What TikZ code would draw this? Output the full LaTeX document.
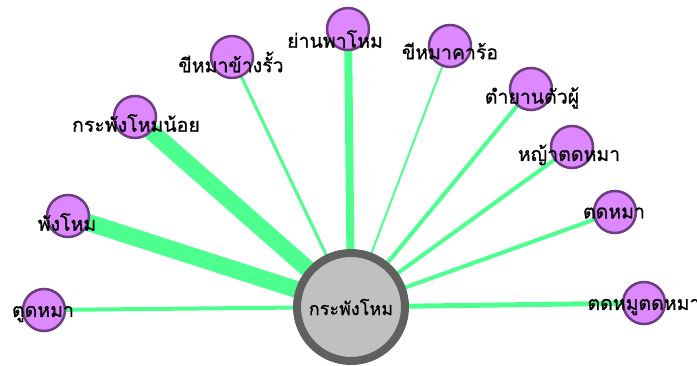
\documentclass[tikz,border=0pt]{standalone}
\usepackage{fontspec}
\newfontfamily\thaifont[Script=Thai, FakeBold=0.8]{Loma}
\definecolor{edgegreen}{RGB}{77,255,143}
\definecolor{leaffill}{RGB}{221,136,255}
\definecolor{leafline}{RGB}{108,62,128}
\definecolor{hubfill}{RGB}{192,192,192}
\definecolor{hubline}{RGB}{96,96,96}
\tikzset{
  leaf/.style={circle, draw=leafline, fill=leaffill, line width=2.5pt, minimum size=42pt, inner sep=0pt},
  hub/.style={circle, draw=hubline, fill=hubfill, line width=8pt, minimum size=108pt, inner sep=0pt,
              font=\thaifont\fontsize{18}{21}\selectfont},
  lbl/.style={font=\thaifont\fontsize{19.5}{22}\selectfont, inner sep=0pt, text=black},
  tie/.style={draw=edgegreen, line cap=butt},
}
\begin{document}
\begin{tikzpicture}[x=1pt, y=-1pt]
\useasboundingbox (0,0) rectangle (697,365);
% node centres
\coordinate (pa) at (44,310);
\coordinate (pb) at (68,216);
\coordinate (pc) at (135,117);
\coordinate (pd) at (232,57);
\coordinate (pe) at (348,29);
\coordinate (pf) at (450,46);
\coordinate (pg) at (531,89);
\coordinate (ph) at (572,147);
\coordinate (pi) at (615,212);
\coordinate (pj) at (644,303);
\coordinate (ph0) at (351,307);
% spokes, drawn first so the circles cover them
\draw[tie, line width=4pt]  (ph0) -- (pa);
\draw[tie, line width=17pt] (ph0) -- (pb);
\draw[tie, line width=17pt] (ph0) -- (pc);
\draw[tie, line width=3pt]  (ph0) -- (pd);
\draw[tie, line width=8pt]  (ph0) -- (pe);
\draw[tie, line width=2pt]  (ph0) -- (pf);
\draw[tie, line width=4pt]  (ph0) -- (pg);
\draw[tie, line width=4pt]  (ph0) -- (ph);
\draw[tie, line width=4pt]  (ph0) -- (pi);
\draw[tie, line width=5pt]  (ph0) -- (pj);
% circles
\node[hub] (hub) at (ph0) {กระพังโหม};
\node[leaf] (a) at (pa) {};
\node[leaf] (b) at (pb) {};
\node[leaf] (c) at (pc) {};
\node[leaf] (d) at (pd) {};
\node[leaf] (e) at (pe) {};
\node[leaf] (f) at (pf) {};
\node[leaf] (g) at (pg) {};
\node[leaf] (h) at (ph) {};
\node[leaf] (i) at (pi) {};
\node[leaf] (j) at (pj) {};
% names
\node[lbl] (al) at (43,314) {ตูดหมา};
\node[lbl] (bl) at (67,222) {พังโหม};
\node[lbl] (cl) at (136,123) {กระพังโหมน้อย};
\node[lbl] (dl) at (231,62) {ขีหมาข้างรั้ว};
\node[lbl] (el) at (335,39) {ย่านพาโหม};
\node[lbl] (fl) at (450,51) {ขีหมาคาร้อ};
\node[lbl] (gl) at (532,98) {ตำยานตัวผู้};
\node[lbl] (hl) at (569,155) {หญ้าตดหมา};
\node[lbl] (il) at (614,213) {ตดหมา};
\node[lbl] (jl) at (644,307) {ตดหมูตดหมา};
\end{tikzpicture}
\end{document}
